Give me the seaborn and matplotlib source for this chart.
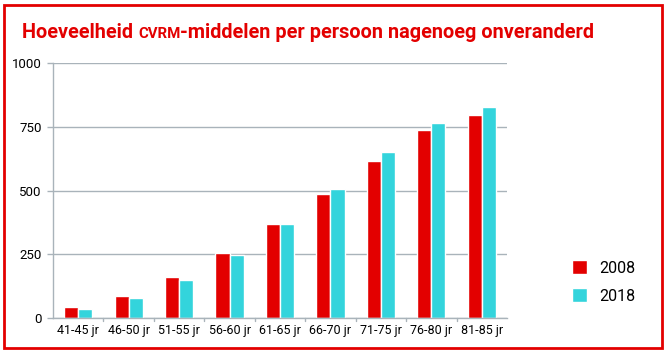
import pandas as pd
import numpy as np
import matplotlib.pyplot as plt
from matplotlib.patches import Rectangle
import seaborn as sns

# data
leeftijd = ['41-45 jr', '46-50 jr', '51-55 jr', '56-60 jr', '61-65 jr',
            '66-70 jr', '71-75 jr', '76-80 jr', '81-85 jr']
jaren = ['2008', '2018']
waarden_2008 = [43, 86, 161, 255, 369, 486, 616, 737, 797]
waarden_2018 = [35, 78, 149, 247, 369, 506, 650, 765, 826]
yticks = [0, 250, 500, 750, 1000]

df = pd.DataFrame({
    'leeftijd': leeftijd * 2,
    'jaar': [jaren[0]] * len(leeftijd) + [jaren[1]] * len(leeftijd),
    'aantal': waarden_2008 + waarden_2018,
})

sns.set_style('white')
plt.rcParams['font.family'] = ['Roboto', 'DejaVu Sans']

ROOD = '#e30000'
CYAAN = '#33d4dc'
GRIJS = '#a9b3ba'

fig = plt.figure(figsize=(6.69, 3.52), dpi=100)
ax = fig.add_axes([53 / 669, 1 - 318 / 352, (507 - 53) / 669, (318 - 63) / 352])

sns.barplot(data=df, x='leeftijd', y='aantal', hue='jaar', hue_order=jaren,
            palette=[ROOD, CYAAN], width=0.56, saturation=1, ax=ax)

ax.set_ylim(0, 1000)
ax.set_xlim(-0.5, len(leeftijd) - 0.5)
ax.set_yticks(yticks)
ax.set_yticklabels([str(t) for t in yticks], fontsize=9.5)
ax.tick_params(axis='x', labelsize=9, length=0, pad=4, labelcolor='black')
ax.tick_params(axis='y', length=4, color=GRIJS, width=1, left=True, pad=4,
               labelcolor='black')
ax.yaxis.grid(True, color=GRIJS, linewidth=1)
ax.set_axisbelow(True)
for kant in ['top', 'right']:
    ax.spines[kant].set_visible(False)
for kant in ['left', 'bottom']:
    ax.spines[kant].set_color(GRIJS)
    ax.spines[kant].set_linewidth(1)
ax.set_xlabel('')
ax.set_ylabel('')

# kleine streepjes tussen de categorieen op de x-as
for g in np.arange(0.5, len(leeftijd) - 0.5, 1.0):
    ax.plot([g, g], [0, -12], color=GRIJS, lw=1, clip_on=False)

leg = ax.legend(loc='center left', bbox_to_anchor=(558 / 669, 1 - 282 / 352),
                bbox_transform=fig.transFigure, frameon=False, fontsize=11.5,
                handlelength=0.9, handleheight=0.9, handletextpad=0.8,
                labelspacing=0.8)
for t in leg.get_texts():
    t.set_color('black')

# titel met CVRM in kleinkapitaal
delen = [('Hoeveelheid ', 14.3), ('CVRM', 10.8), ('-middelen per persoon nagenoeg onveranderd', 14.3)]
renderer = fig.canvas.get_renderer()
x = 22
for tekst, grootte in delen:
    t = fig.text(x / 669, 1 - 38 / 352, tekst, color=ROOD, fontsize=grootte,
                 fontweight='bold', va='baseline')
    bb = t.get_window_extent(renderer)
    x = bb.x1

# rode kader rond de figuur
fig.patches.append(Rectangle((4 / 669, 4 / 352), 658 / 669, 343 / 352,
                             transform=fig.transFigure, fill=False,
                             edgecolor=ROOD, linewidth=2))

plt.savefig('out.png', dpi=100)
